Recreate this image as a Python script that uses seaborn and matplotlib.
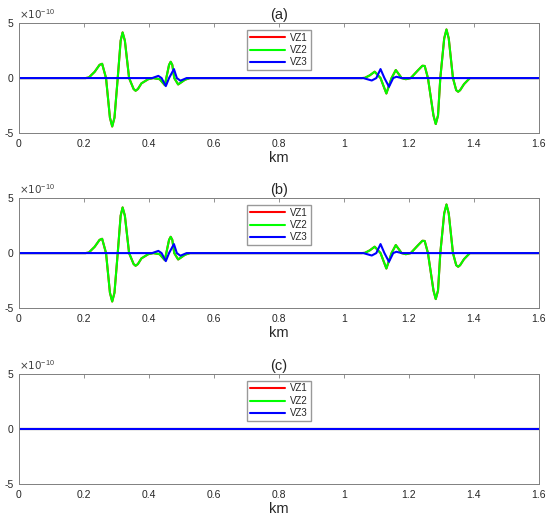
import matplotlib
matplotlib.use('Agg')
import matplotlib.pyplot as plt
import pandas as pd
import seaborn as sns

# --- data (values in units of 1e-10) ---
# VZ2 (green), panel (a); panel (b) looks the same
vz2_km = [0.0, 0.205, 0.215, 0.233, 0.248, 0.256, 0.268, 0.280, 0.287, 0.294,
          0.304, 0.313, 0.319, 0.326, 0.339, 0.353, 0.359, 0.366, 0.377, 0.398,
          0.413, 0.433, 0.449, 0.462, 0.467, 0.472, 0.478, 0.490, 0.511, 0.526,
          1.055, 1.065, 1.080, 1.095, 1.113, 1.131, 1.147, 1.160, 1.178, 1.191,
          1.206, 1.229, 1.242, 1.249, 1.259, 1.276, 1.283, 1.290, 1.297, 1.309,
          1.316, 1.323, 1.336, 1.346, 1.352, 1.358, 1.370, 1.388, 1.6]
vz2_val = [0.0, 0.0, 0.05, 0.57, 1.2, 1.3, 0.0, -3.6, -4.4, -3.6,
           0.0, 3.4, 4.15, 3.4, 0.0, -1.0, -1.15, -1.0, -0.48, -0.1,
           0.0, -0.1, -0.64, 1.2, 1.48, 1.2, 0.0, -0.58, -0.15, 0.0,
           0.0, 0.02, 0.25, 0.58, 0.0, -1.4, 0.0, 0.73, 0.0, -0.1,
           0.0, 0.73, 1.12, 1.1, 0.0, -3.4, -4.18, -3.4, 0.0, 3.6,
           4.42, 3.6, 0.0, -1.1, -1.24, -1.1, -0.55, 0.0, 0.0]

# VZ3 (blue)
vz3_km = [0.0, 0.410, 0.429, 0.439, 0.452, 0.462, 0.477, 0.486, 0.497, 0.516,
          1.060, 1.086, 1.100, 1.113, 1.125, 1.139, 1.152, 1.162, 1.178, 1.6]
vz3_val = [0.0, 0.0, 0.2, 0.0, -0.73, 0.0, 0.82, 0.0, -0.24, 0.0,
           0.0, -0.22, 0.0, 0.82, 0.0, -0.79, 0.0, 0.12, 0.0, 0.0]

# VZ1 (red) is hidden under VZ2 -> same trace
vz1_km = vz2_km
vz1_val = vz2_val

# panel (c): everything flat
flat_km = [0.0, 1.6]
flat_val = [0.0, 0.0]

names = ['VZ1', 'VZ2', 'VZ3']
colors = {'VZ1': '#ff0000', 'VZ2': '#00ff00', 'VZ3': '#0000ff'}
panels = ['(a)', '(b)', '(c)']


def make_df(series):
    rows = []
    for name, (xs, ys) in zip(names, series):
        for x, y in zip(xs, ys):
            rows.append({'km': x, 'val': y * 1e-10, 'name': name})
    return pd.DataFrame(rows)


wave = [(vz1_km, vz1_val), (vz2_km, vz2_val), (vz3_km, vz3_val)]
flat = [(flat_km, flat_val)] * 3
dfs = [make_df(wave), make_df(wave), make_df(flat)]

sns.set_style('white')
plt.rcParams['font.family'] = ['Liberation Sans', 'DejaVu Sans']
plt.rcParams['axes.unicode_minus'] = False

fig = plt.figure(figsize=(5.5, 5.24), dpi=100)
bottoms = [0.746, 0.412, 0.0763]
for df, title, b in zip(dfs, panels, bottoms):
    ax = fig.add_axes([0.0345, b, 0.945, 0.21])
    sns.lineplot(data=df, x='km', y='val', hue='name', hue_order=names,
                 palette=colors, estimator=None, sort=False, lw=1.5,
                 legend=False, ax=ax)
    ax.set_xlim(0, 1.6)
    ax.set_ylim(-5e-10, 5e-10)
    ax.set_xticks([0, 0.2, 0.4, 0.6, 0.8, 1.0, 1.2, 1.4, 1.6])
    ax.set_xticklabels(['0', '0.2', '0.4', '0.6', '0.8', '1', '1.2', '1.4', '1.6'])
    ax.set_yticks([-5e-10, 0, 5e-10])
    ax.set_yticklabels(['-5', '0', '5'])
    ax.text(0.0, 1.02, r'$\times 10^{\mathregular{-10}}$', transform=ax.transAxes,
            fontsize=7.5, color='#404040', ha='left', va='bottom')
    ax.tick_params(direction='in', top=True, right=True, length=3,
                   width=0.6, colors='#808080', labelcolor='#262626',
                   labelsize=7.5, pad=4)
    for sp in ax.spines.values():
        sp.set_color('#808080')
        sp.set_linewidth(0.7)
    ax.set_xlabel('km', fontsize=10.5, color='#262626', labelpad=2)
    ax.set_ylabel('')
    ax.set_title(title, fontsize=10.5, color='#262626', pad=3)
    ax.legend(ax.get_lines()[:3], names, loc='upper center',
              bbox_to_anchor=(0.5, 0.94), fontsize=7, frameon=True,
              fancybox=False, edgecolor='#808080', handlelength=3.6,
              borderpad=0.3, labelspacing=0.25, handletextpad=0.5,
              borderaxespad=0)

fig.savefig('out.png', dpi=100)
